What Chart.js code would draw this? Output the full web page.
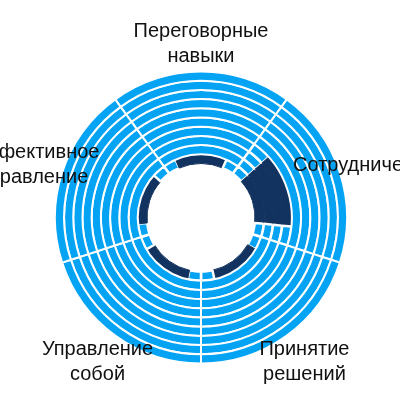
<!DOCTYPE html>
<html><head><meta charset="utf-8">
<script src="https://cdn.jsdelivr.net/npm/chart.js@4"></script>
<style>html,body{margin:0;padding:0;background:#fff}</style>
</head><body>
<canvas id="c" width="400" height="400"></canvas>
<script>
const categories = ['Переговорные навыки','Сотрудничество','Принятие решений','Управление собой','Эффективное управление'];
const labelLines = [['Переговорные','навыки'],['Сотрудничество'],['Принятие','решений'],['Управление','собой'],['Эффективное','управление']];
const levels = [1, 4, 1, 1, 1];
const maxLevel = 10;

const LIGHT = '#05a3f4', DARK = '#12335f';
const EDGE = 0.17, CORE = 0.66;

const labels = [];
categories.forEach(c => labels.push(c, c, c));

const datasets = [];
for (let d = 0; d < maxLevel; d++) {
  const ring = maxLevel - d; // dataset 0 = outermost ring
  const data = [], bg = [], bw = [], bc = [];
  levels.forEach(lv => {
    if (ring <= lv) {
      data.push(EDGE, CORE, EDGE);
      bg.push(LIGHT, DARK, LIGHT);
      bw.push(2.5, 1, 2.5);
      bc.push('#fff', DARK, '#fff');
    } else {
      data.push(1, 0, 0);
      bg.push(LIGHT, LIGHT, LIGHT);
      bw.push(2, 0, 0);
      bc.push('#fff', '#fff', '#fff');
    }
  });
  datasets.push({ data, backgroundColor: bg, borderWidth: bw, borderColor: bc, hoverOffset: 0 });
}

const labelPlugin = {
  id: 'catLabels',
  afterDraw(chart) {
    const arc = chart.getDatasetMeta(0).data[0];
    const cx = arc.x, cy = arc.y + 2, R = arc.outerRadius + 30;
    const ctx = chart.ctx;
    ctx.save();
    ctx.font = '20px "Liberation Sans", Arial, sans-serif';
    ctx.fillStyle = '#111';
    ctx.textAlign = 'center';
    ctx.textBaseline = 'middle';
    const step = 2 * Math.PI / categories.length;
    labelLines.forEach((lines, i) => {
      const a = -Math.PI / 2 + i * step;
      const x = cx + R * Math.cos(a), y = cy + R * Math.sin(a);
      const lh = 25;
      lines.forEach((t, k) => {
        ctx.fillText(t, x, y + (k - (lines.length - 1) / 2) * lh);
      });
    });
    ctx.restore();
  }
};

new Chart(document.getElementById('c'), {
  type: 'doughnut',
  data: { labels, datasets },
  options: {
    responsive: false,
    animation: false,
    devicePixelRatio: 1,
    rotation: -36,
    cutout: '37%',
    layout: { padding: { top: 70, bottom: 35, left: 54, right: 52 } },
    plugins: { legend: { display: false }, tooltip: { enabled: false } }
  },
  plugins: [labelPlugin]
});
</script>
</body></html>
